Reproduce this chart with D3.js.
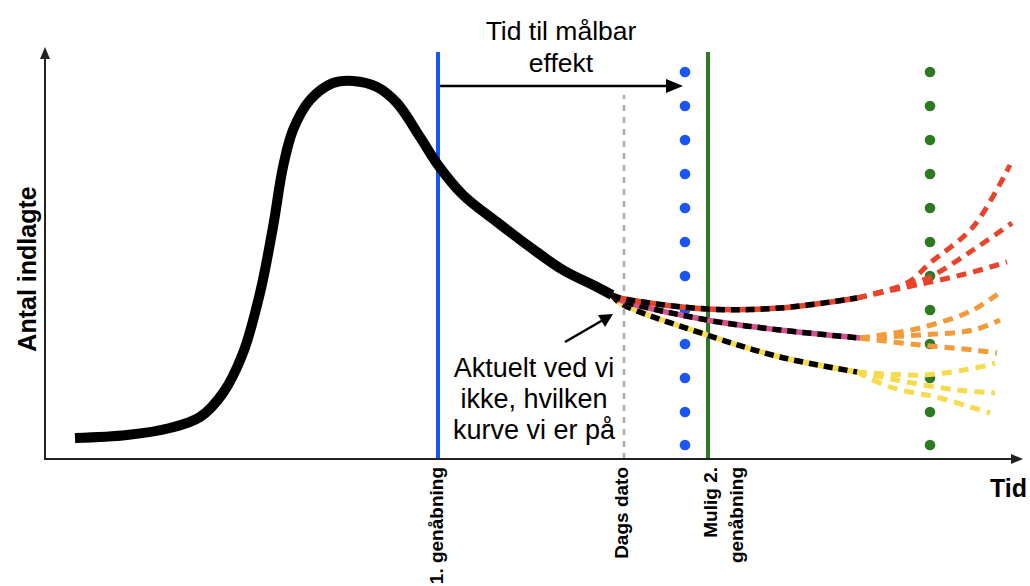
<!DOCTYPE html>
<html>
<head>
<meta charset="utf-8">
<script src="https://cdn.jsdelivr.net/npm/d3@7"></script>
<style>
  body { margin: 0; background: #fff; }
  svg { display: block; font-family: "Liberation Sans", Arial, Helvetica, sans-serif; }
</style>
</head>
<body>
<div id="chart"></div>
<script>
const width = 1030;
const height = 586;

// data (time units on x, admissions on y)
const mainCurve = [[3.0, 2.1], [8.2, 2.4], [12.5, 3.1], [15.5, 4.2], [17.8, 6.6], [19.8, 10.6], [21.5, 16.6],
    [22.8, 23.2], [23.8, 29.2], [24.8, 32.9], [26.5, 35.9], [28.8, 37.6], [30.8, 37.8], [33.2, 37.2],
    [35.2, 35.6], [37.5, 32.2], [39.3, 29.4], [41.8, 26.4], [45.2, 23.7], [48.5, 21.2], [51.8, 18.9],
    [55.2, 17.2], [56.7, 16.4]];

const branchHigh = [[56.7, 16.4], [57.5, 16.1], [66.2, 15.0], [73.5, 15.1], [81.2, 16.1]];
const branchMid = [[56.7, 16.4], [57.5, 15.9], [66.2, 13.9], [73.5, 12.9], [81.5, 12.1]];
const branchLow = [[56.7, 16.4], [57.5, 15.6], [66.2, 12.4], [73.5, 10.2], [81.2, 8.7]];

const fanHigh = [
    [[81.2, 16.1], [86.2, 17.6], [88.5, 19.6], [92.8, 23.2], [96.5, 29.4]],
    [[81.2, 16.1], [86.2, 17.4], [88.5, 18.2], [92.8, 20.9], [96.7, 23.6]],
    [[81.2, 16.1], [86.2, 17.2], [89.5, 17.9], [92.8, 18.7], [96.2, 19.7]]
];
const fanMid = [
    [[81.5, 12.1], [87.5, 13.1], [92.8, 14.9], [95.8, 16.9]],
    [[81.5, 12.1], [87.5, 12.4], [92.8, 12.9], [95.5, 13.9]],
    [[81.5, 12.1], [87.5, 11.4], [92.8, 10.9], [95.2, 10.6]]
];
const fanLow = [
    [[81.2, 8.7], [87.8, 8.4], [93.5, 9.2], [95.0, 9.6]],
    [[81.2, 8.7], [86.2, 7.7], [91.2, 6.9], [95.0, 6.6]],
    [[81.2, 8.7], [84.5, 7.2], [89.5, 6.1], [94.5, 4.6]]
];

const eventNames = ["1. genåbning", "Dags dato", "Mulig 2.|genåbning"];
const eventTimes = [39.3, 57.9, 66.3];
const effectLagTime = 63.8;
const dotLevels = [38.7, 35.3, 31.9, 28.5, 25.1, 21.7, 18.3, 14.9, 11.5, 8.1, 4.7, 1.4];
const dotTimes = [64.0, 88.5];

const colors = { high: "#e8432b", pink: "#d4508e", mid: "#f39b3a", low: "#f6dc4c", blue: "#1a55f5", green: "#2e7a23" };

// scales
const x = d3.scaleLinear().domain([0, 97]).range([45, 1015]);
const y = d3.scaleLinear().domain([0, 41]).range([459, 49]);

const svg = d3.select("#chart").append("svg").attr("width", width).attr("height", height);

const line = d3.line().x(d => x(d[0])).y(d => y(d[1])).curve(d3.curveCatmullRom.alpha(0.5));

// event lines
svg.append("line")
    .attr("x1", x(eventTimes[0])).attr("x2", x(eventTimes[0]))
    .attr("y1", y(0)).attr("y2", y(40.7))
    .attr("stroke", colors.blue).attr("stroke-width", 4);

svg.append("line")
    .attr("x1", x(eventTimes[1])).attr("x2", x(eventTimes[1]))
    .attr("y1", y(0)).attr("y2", y(36.4))
    .attr("stroke", "#aaa").attr("stroke-width", 2.5).attr("stroke-dasharray", "6,6");

svg.append("line")
    .attr("x1", x(eventTimes[2])).attr("x2", x(eventTimes[2]))
    .attr("y1", y(0)).attr("y2", y(40.7))
    .attr("stroke", colors.green).attr("stroke-width", 4);

// dotted lines
svg.selectAll("circle.blueDot")
    .data(dotLevels)
    .join("circle")
    .attr("class", "blueDot")
    .attr("cx", x(dotTimes[0]))
    .attr("cy", d => y(d))
    .attr("r", 5.3)
    .attr("fill", colors.blue);

svg.selectAll("circle.greenDot")
    .data(dotLevels)
    .join("circle")
    .attr("class", "greenDot")
    .attr("cx", x(dotTimes[1]))
    .attr("cy", d => y(d))
    .attr("r", 5.3)
    .attr("fill", colors.green);

// scenario fans
const fans = [[fanHigh, colors.high], [fanMid, colors.mid], [fanLow, colors.low]];
fans.forEach(([set, c]) => {
    svg.append("g").selectAll("path")
        .data(set)
        .join("path")
        .attr("d", line)
        .attr("fill", "none")
        .attr("stroke", c)
        .attr("stroke-width", 5)
        .attr("stroke-dasharray", "10,7");
});

// branches: colour under black dashes
const branches = [[branchLow, colors.low], [branchMid, colors.pink], [branchHigh, colors.high]];
branches.forEach(([pts, c]) => {
    svg.append("path").attr("d", line(pts))
        .attr("fill", "none").attr("stroke", c).attr("stroke-width", 5.5);
    svg.append("path").attr("d", line(pts))
        .attr("fill", "none").attr("stroke", "#000").attr("stroke-width", 5.5)
        .attr("stroke-dasharray", "9,6");
});

// main curve
svg.append("path")
    .attr("d", line(mainCurve))
    .attr("fill", "none")
    .attr("stroke", "#000")
    .attr("stroke-width", 10);

// axes with arrowheads
svg.append("line")
    .attr("x1", x(0)).attr("x2", x(0)).attr("y1", y(0) + 1).attr("y2", 58)
    .attr("stroke", "#222").attr("stroke-width", 2);
svg.append("path").attr("d", `M${x(0) - 5},59 L${x(0)},47 L${x(0) + 5},59 Z`).attr("fill", "#222");

svg.append("line")
    .attr("x1", x(0)).attr("x2", 1012).attr("y1", y(0)).attr("y2", y(0))
    .attr("stroke", "#222").attr("stroke-width", 2);
svg.append("path").attr("d", `M1011,${y(0) - 5} L1023,${y(0)} L1011,${y(0) + 5} Z`).attr("fill", "#222");

svg.append("text")
    .attr("x", 990).attr("y", 497)
    .attr("font-size", 25).attr("font-weight", 700)
    .text("Tid");

svg.append("text")
    .attr("transform", `translate(36,${y(19)}) rotate(-90)`)
    .attr("text-anchor", "middle")
    .attr("font-size", 25).attr("font-weight", 700)
    .text("Antal indlagte");

// event labels under the axis
const labelBaseX = [443, 628, 717];
eventNames.forEach((name, i) => {
    name.split("|").forEach((part, j) => {
        svg.append("text")
            .attr("transform", `translate(${labelBaseX[i] + j * 26},467) rotate(-90)`)
            .attr("text-anchor", "end")
            .attr("font-size", 19).attr("font-weight", 700)
            .text(part);
    });
});

// time to effect arrow
svg.append("line")
    .attr("x1", x(eventTimes[0]) + 2).attr("x2", x(effectLagTime) - 14)
    .attr("y1", y(37.3)).attr("y2", y(37.3))
    .attr("stroke", "#000").attr("stroke-width", 2.5);
svg.append("path")
    .attr("d", `M${x(effectLagTime) - 17},${y(37.3) - 7} L${x(effectLagTime)},${y(37.3)} L${x(effectLagTime) - 17},${y(37.3) + 7} Z`)
    .attr("fill", "#000");

svg.append("text")
    .attr("x", 561).attr("y", 40)
    .attr("text-anchor", "middle").attr("font-size", 26.5)
    .text("Tid til målbar");
svg.append("text")
    .attr("x", 561).attr("y", 72)
    .attr("text-anchor", "middle").attr("font-size", 26.5)
    .text("effekt");

// annotation
const noteLines = ["Aktuelt ved vi", "ikke, hvilken", "kurve vi er på"];
svg.selectAll("text.note")
    .data(noteLines)
    .join("text")
    .attr("class", "note")
    .attr("x", 534)
    .attr("y", (d, i) => 377 + i * 31)
    .attr("text-anchor", "middle")
    .attr("font-size", 27)
    .text(d => d);

svg.append("line")
    .attr("x1", 565).attr("y1", 342).attr("x2", 603).attr("y2", 320)
    .attr("stroke", "#000").attr("stroke-width", 2.5);
svg.append("path")
    .attr("d", "M613,314 L598,315 L605,327 Z")
    .attr("fill", "#000");
</script>
</body>
</html>
